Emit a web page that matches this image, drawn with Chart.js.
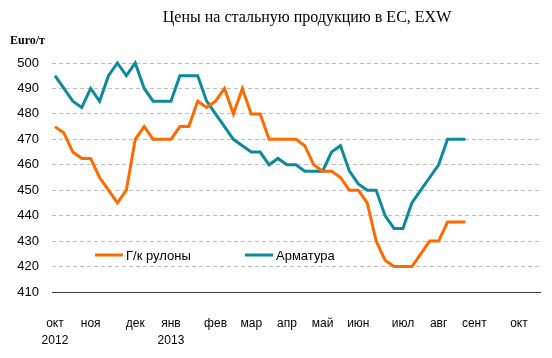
<!DOCTYPE html>
<html>
<head>
<meta charset="utf-8">
<script src="https://cdn.jsdelivr.net/npm/chart.js@4/dist/chart.umd.min.js"></script>
<style>
  html, body { margin: 0; padding: 0; background: #fff; }
  #wrap { width: 552px; height: 358px; position: relative; }
</style>
</head>
<body>
<div id="wrap"><canvas id="c" width="552" height="358"></canvas></div>
<script>
// ---- data ----
const titleText = 'Цены на стальную продукцию в ЕС, EXW';
const unitText = 'Euro/т';
const seriesNames = ['Г/к рулоны', 'Арматура'];
// weekly values, Oct 2012 onward
const coilValues = [475, 472.5, 465, 462.5, 462.5, 455, 450, 445, 450, 470,
  475, 470, 470, 470, 475, 475, 485, 482.5, 485, 490,
  480, 490, 480, 480, 470, 470, 470, 470, 467.5, 460,
  457.5, 457.5, 455, 450, 450, 445, 430, 422.5, 420, 420,
  420, 425, 430, 430, 437.5, 437.5, 437.5];
const rebarValues = [495, 490, 485, 482.5, 490, 485, 495, 500, 495, 500,
  490, 485, 485, 485, 495, 495, 495, 485, 480, 475,
  470, 467.5, 465, 465, 460, 462.5, 460, 460, 457.5, 457.5,
  457.5, 465, 467.5, 457.5, 452.5, 450, 450, 440, 435, 435,
  445, 450, 455, 460, 470, 470, 470];
// month tick labels and the week number where each month starts
const monthLabels = [['окт', '2012'], 'ноя', 'дек', ['янв', '2013'], 'фев', 'мар', 'апр', 'май', 'июн', 'июл', 'авг', 'сент', 'окт'];
const monthWeeks = [0, 4, 9, 13, 18, 22, 26, 30, 34, 39, 43, 47, 52];
const yTicks = [410, 420, 430, 440, 450, 460, 470, 480, 490, 500];

const colors = ['#FF6A00', '#0E8A9B'];
const toPts = arr => arr.map((v, i) => ({x: i, y: v}));

const overlay = {
  id: 'overlay',
  afterDraw(chart) {
    const ctx = chart.ctx;
    ctx.save();
    ctx.fillStyle = '#000';
    ctx.textBaseline = 'middle';
    ctx.textAlign = 'center';
    ctx.font = '16px "Liberation Serif"';
    ctx.fillText(titleText, 307, 18);
    ctx.textAlign = 'left';
    ctx.font = 'bold 12px "Liberation Serif"';
    ctx.fillText(unitText, 10, 41);
    // legend inside plot
    const items = [{x: 95}, {x: 245}];
    ctx.font = '13px "Liberation Sans"';
    chart.data.datasets.forEach((ds, i) => {
      const x = items[i].x, y = 255;
      ctx.strokeStyle = ds.borderColor;
      ctx.lineWidth = 3;
      ctx.beginPath();
      ctx.moveTo(x, y);
      ctx.lineTo(x + 28, y);
      ctx.stroke();
      ctx.fillStyle = '#000';
      ctx.fillText(ds.label, x + 31, y + 1);
    });
    ctx.restore();
  }
};

new Chart(document.getElementById('c'), {
  type: 'line',
  data: {
    datasets: [
      {label: seriesNames[0], data: toPts(coilValues), borderColor: colors[0], backgroundColor: colors[0], borderWidth: 3, pointRadius: 0, tension: 0, clip: false},
      {label: seriesNames[1], data: toPts(rebarValues), borderColor: colors[1], backgroundColor: colors[1], borderWidth: 3, pointRadius: 0, tension: 0, clip: false}
    ]
  },
  options: {
    responsive: false,
    animation: false,
    layout: {padding: {left: 0, right: 7, top: 63, bottom: 0}},
    plugins: {legend: {display: false}, title: {display: false}, tooltip: {enabled: false}},
    scales: {
      x: {
        type: 'linear',
        min: -0.333,
        max: 54.44,
        afterBuildTicks: s => { s.ticks = monthWeeks.map(v => ({value: v})); },
        afterFit: s => { s.height = 66; },
        grid: {display: false, drawTicks: false},
        border: {display: true, color: '#404040', width: 1},
        ticks: {
          autoSkip: false, maxRotation: 0, padding: 24, color: '#000',
          font: {family: 'Liberation Sans', size: 12, lineHeight: 1.35},
          callback: v => { const k = monthWeeks.indexOf(v); return k >= 0 ? monthLabels[k] : ''; }
        }
      },
      y: {
        min: 410,
        max: 500,
        afterBuildTicks: s => { s.ticks = yTicks.map(v => ({value: v})); },
        afterFit: s => { s.width = 52; },
        grid: {drawTicks: false, color: c => (c.tick && c.tick.value === 410) ? 'rgba(0,0,0,0)' : '#BDBDBD', lineWidth: 1},
        border: {display: false, dash: [4, 3]},
        ticks: {padding: 13, color: '#000', font: {family: 'Liberation Sans', size: 13}}
      }
    }
  },
  plugins: [overlay]
});
</script>
</body>
</html>
